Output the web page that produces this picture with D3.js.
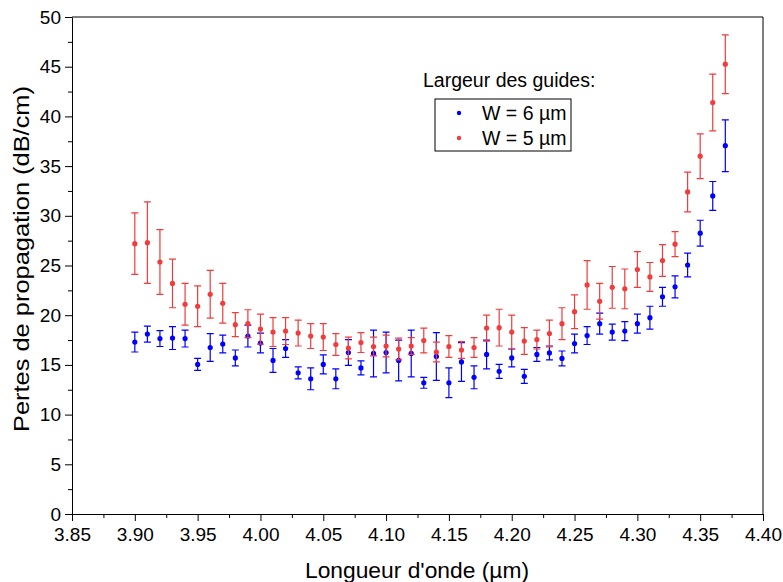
<!DOCTYPE html>
<html><head><meta charset="utf-8">
<script src="https://cdn.jsdelivr.net/npm/d3@7"></script>
<style>
body{margin:0;background:#fff;}
svg{display:block;font-family:"Liberation Sans",Arial,sans-serif;}
</style></head><body>
<svg id="chart" width="783" height="582"></svg>
<script>
const wavelengths = [3.90,3.91,3.92,3.93,3.94,3.95,3.96,3.97,3.98,3.99,4.00,4.01,4.02,4.03,4.04,4.05,4.06,4.07,4.08,4.09,4.10,4.11,4.12,4.13,4.14,4.15,4.16,4.17,4.18,4.19,4.20,4.21,4.22,4.23,4.24,4.25,4.26,4.27,4.28,4.29,4.30,4.31,4.32,4.33,4.34,4.35,4.36,4.37];
const lossW6 = [17.3,18.1,17.65,17.7,17.65,15.05,16.75,17.1,15.7,17.9,17.2,15.45,16.65,14.2,13.6,15.05,13.6,16.25,14.7,16.15,16.25,15.45,16.15,13.2,15.85,13.2,15.3,13.75,16.05,14.35,15.7,13.85,16.05,16.2,15.65,17.15,17.95,19.15,18.3,18.4,19.15,19.75,21.85,22.85,25.05,28.25,32.0,37.05];
const errW6 = [1.0,0.8,0.8,1.15,0.85,0.6,1.4,0.9,0.8,1.1,1.0,1.2,0.9,0.6,1.1,0.95,1.0,1.3,0.7,2.35,2.05,2.05,2.35,0.55,2.4,1.5,1.95,1.15,1.45,0.7,0.9,0.7,0.7,0.7,0.75,0.95,0.9,1.05,0.8,0.95,0.95,1.15,0.95,1.1,1.2,1.3,1.45,2.6];
const lossW5 = [27.2,27.3,25.35,23.2,21.1,20.9,22.1,21.2,19.05,19.15,18.6,18.3,18.4,18.2,17.9,17.8,17.05,16.7,17.25,16.85,16.9,16.6,16.9,17.45,16.3,16.85,16.5,16.75,18.7,18.75,18.3,17.4,17.55,18.15,19.15,20.35,23.05,21.4,22.8,22.65,24.6,23.85,25.5,27.15,32.4,36.0,41.4,45.25];
const errW5 = [3.1,4.1,3.25,2.45,2.1,2.05,2.4,2.0,1.2,1.4,1.5,1.45,1.35,1.3,1.25,1.35,1.1,1.1,1.0,0.95,1.1,1.1,0.85,1.25,1.0,1.1,0.85,1.0,1.3,1.85,1.7,1.35,0.95,1.35,1.6,1.7,2.45,1.8,2.1,2.0,1.8,1.45,1.6,1.25,2.0,2.25,2.85,2.95];
const xTicks = [3.85,3.90,3.95,4.00,4.05,4.10,4.15,4.20,4.25,4.30,4.35,4.40];
const yTicks = [0,5,10,15,20,25,30,35,40,45,50];
const seriesNames = ["W = 6 µm","W = 5 µm"];
const seriesColors = ["#0000ff","#f03c3c"];
const legendTitle = "Largeur des guides:";
const xTitle = "Longueur d'onde (µm)";
const yTitle = "Pertes de propagation (dB/cm)";

const svg = d3.select("#chart");
const x = d3.scaleLinear().domain([3.85,4.40]).range([72,763]);
const y = d3.scaleLinear().domain([0,50]).range([514,17]);

// frame (top + right)
svg.append("path").attr("d",`M${x(3.85)},${y(50)}H${x(4.40)}V${y(0)}`)
  .attr("fill","none").attr("stroke","#000").attr("stroke-width",1);

// minor ticks
const xMinor = xTicks.slice(0,-1).map(v=>+(v+0.025).toFixed(3));
const yMinor = yTicks.slice(0,-1).map(v=>v+2.5);
svg.append("g").attr("transform",`translate(0,${y(0)})`)
  .call(d3.axisBottom(x).tickValues(xMinor).tickSize(4).tickFormat(""))
  .call(g=>g.select(".domain").remove());
svg.append("g").attr("transform",`translate(${x(3.85)},0)`)
  .call(d3.axisLeft(y).tickValues(yMinor).tickSize(4).tickFormat(""))
  .call(g=>g.select(".domain").remove());

// major axes
const gx = svg.append("g").attr("transform",`translate(0,${y(0)})`)
  .call(d3.axisBottom(x).tickValues(xTicks).tickSize(7).tickPadding(7).tickFormat(d3.format(".2f")).tickSizeOuter(0));
const gy = svg.append("g").attr("transform",`translate(${x(3.85)},0)`)
  .call(d3.axisLeft(y).tickValues(yTicks).tickSize(7).tickPadding(4).tickFormat(d3.format("d")).tickSizeOuter(0));
[gx,gy].forEach(g=>{
  g.selectAll("text").attr("font-size",19).attr("font-family","Liberation Sans, Arial, sans-serif").attr("fill","#000");
  g.selectAll("line,path").attr("stroke","#000");
});

// titles
svg.append("text").attr("x",417).attr("y",578).attr("text-anchor","middle")
  .attr("font-size",22.8).attr("fill","#000").text(xTitle);
svg.append("text").attr("transform","translate(29,259) rotate(-90)").attr("text-anchor","middle")
  .attr("font-size",22.5).attr("textLength",346).attr("lengthAdjust","spacingAndGlyphs")
  .attr("fill","#000").text(yTitle);

// series
const series = [
  {vals: lossW6, errs: errW6, color: seriesColors[0]},
  {vals: lossW5, errs: errW5, color: seriesColors[1]}
];
const cap = 3.5;
series.forEach(s=>{
  const g = svg.append("g");
  const data = wavelengths.map((w,i)=>({w, v:s.vals[i], e:s.errs[i]}));
  const eb = g.selectAll("g.eb").data(data).join("g").attr("stroke",s.color).attr("stroke-width",1.2).attr("fill","none");
  eb.append("path").attr("d",d=>{
    const cx = x(d.w), t = y(d.v+d.e), b = y(d.v-d.e);
    return `M${cx},${t}V${b}M${cx-cap},${t}H${cx+cap}M${cx-cap},${b}H${cx+cap}`;
  });
  g.selectAll("circle").data(data).join("circle")
    .attr("cx",d=>x(d.w)).attr("cy",d=>y(d.v)).attr("r",2.6).attr("fill",s.color);
});

// legend
svg.append("text").attr("x",423).attr("y",87).attr("font-size",19.5).attr("fill","#000").text(legendTitle);
svg.append("rect").attr("x",435).attr("y",99).attr("width",136).attr("height",52)
  .attr("fill","#fff").attr("stroke","#000").attr("stroke-width",1);
seriesNames.forEach((n,i)=>{
  const cy = 113 + i*25;
  svg.append("circle").attr("cx",459).attr("cy",cy).attr("r",2.2).attr("fill",seriesColors[i]);
  svg.append("text").attr("x",482).attr("y",cy+7).attr("font-size",19.5).attr("fill","#000").text(n);
});
</script>
</body></html>
